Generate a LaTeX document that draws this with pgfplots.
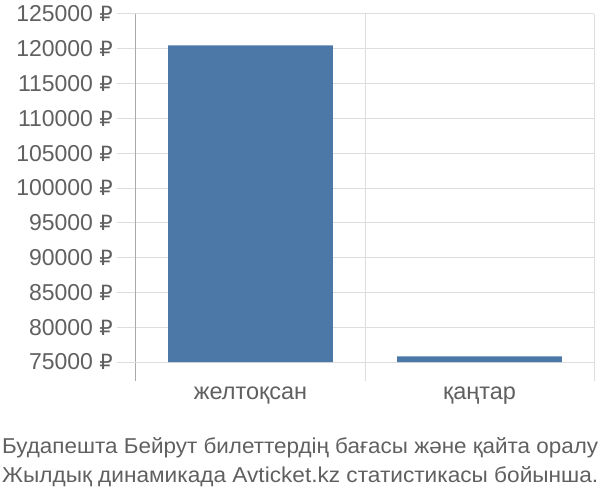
\documentclass[border=0pt]{standalone}
\usepackage{fontspec}
\setmainfont{Liberation Sans}
\newfontfamily\dejavu{DejaVu Sans}
\usepackage{pgfplots}
\pgfplotsset{compat=1.18}
\definecolor{barblue}{RGB}{76,120,168}
\definecolor{txtgray}{RGB}{96,96,96}
\definecolor{gridgray}{RGB}{221,221,221}
\definecolor{axisgray}{RGB}{170,170,170}

\begin{document}
\begin{tikzpicture}[x=1pt,y=1pt]
\useasboundingbox (0,0) rectangle (600,-500);
\begin{axis}[
  at={(136pt,-362pt)}, anchor=south west,
  scale only axis, width=458pt, height=348pt,
  xmin=0, xmax=2, ymin=75000, ymax=125000,
  axis lines*=left, axis line style={-},
  x axis line style={draw=none},
  y axis line style={draw=axisgray, line width=1pt},
  ytick={75000,80000,...,125000}, scaled y ticks=false,
  ymajorgrids, major grid style={gridgray, line width=1pt},
  tick align=outside, major tick length=19pt,
  ytick style={draw=gridgray, line width=1pt},
  xtick={0.5,1.5}, xticklabels={желтоқсан, қаңтар},
  xtick style={draw=none},
  extra x ticks={1,2}, extra x tick labels={},
  extra x tick style={xmajorgrids=true, xtick style={draw=gridgray, line width=1pt}},
  minor xtick={0}, minor tick length=19pt,
  minor x tick style={draw=axisgray, line width=1pt},
  /pgf/number format/assume math mode=true,
  yticklabel={\pgfmathprintnumber[fixed,precision=0,1000 sep={}]{\tick}~{\dejavu\fontsize{21}{24}\selectfont ₽}},
  tick label style={font=\fontsize{23}{27}\selectfont, text=txtgray},
  yticklabel style={inner sep=0pt, xshift=-4pt},
  xticklabel style={inner sep=0pt, yshift=-6pt, font=\fontsize{23.5}{27}\selectfont},
]
\addplot[ybar, fill=barblue, draw=none, bar width=0.72]
  coordinates {(0.5,120500) (1.5,75800)};
\end{axis}
\node[anchor=base west, inner sep=0pt, text=txtgray] at (2,-453)
  {\resizebox{596pt}{\height}{\fontsize{21.5}{24}\selectfont Будапешта Бейрут билеттердің бағасы және қайта оралу}};
\node[anchor=base west, inner sep=0pt, text=txtgray] at (2,-482)
  {\resizebox{596pt}{\height}{\fontsize{21.5}{24}\selectfont Жылдық динамикада Avticket.kz статистикасы бойынша.}};
\end{tikzpicture}
\end{document}
